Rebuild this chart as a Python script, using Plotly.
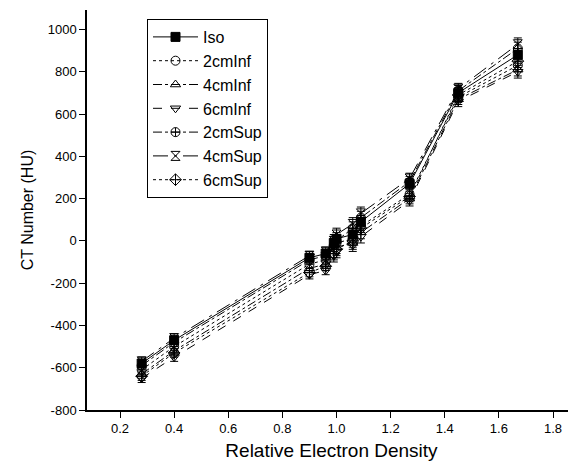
import plotly.graph_objects as go

density = [0.28, 0.40, 0.90, 0.96, 0.99, 1.00, 1.06, 1.09, 1.27, 1.45, 1.67]

iso      = [-580, -470,  -80,  -60, -10,  10,  30,  90, 270, 700, 880]
inf2     = [-610, -500, -110,  -90, -30, -10,  10,  70, 220, 680, 830]
inf4     = [-630, -520, -130, -110, -50, -30, -10,  40, 200, 670, 810]
inf6     = [-650, -550, -160, -140, -70, -50, -20,  20, 190, 660, 800]
sup2     = [-590, -480,  -90,  -70, -20,   0,  60, 110, 280, 710, 910]
sup4     = [-570, -460,  -70,  -50,   0,  30,  80, 130, 295, 720, 930]
sup6     = [-640, -530, -150, -120, -60, -40,   0,  60, 210, 690, 850]

err = [20, 20, 20, 20, 30, 30, 30, 30, 25, 25, 30]

names = ["Iso", "2cmInf", "4cmInf", "6cmInf", "2cmSup", "4cmSup", "6cmSup"]
series = [iso, inf2, inf4, inf6, sup2, sup4, sup6]
symbols = ["square", "circle-open", "triangle-up-open", "triangle-down-open",
           "circle-cross-open", "hourglass-open", "diamond-cross-open"]
dashes = ["solid", "dot", "dashdot", "dash", "dashdot", "longdashdot", "dot"]

x_ticks = [0.2, 0.4, 0.6, 0.8, 1.0, 1.2, 1.4, 1.6, 1.8]
x_labels = ["0.2", "0.4", "0.6", "0.8", "1.0", "1.2", "1.4", "1.6", "1.8"]
y_ticks = [-800, -600, -400, -200, 0, 200, 400, 600, 800, 1000]
y_labels = ["-800", "-600", "-400", "-200", "0", "200", "400", "600", "800", "1000"]

fig = go.Figure()
for n, s, sym, d in zip(names, series, symbols, dashes):
    fig.add_trace(go.Scatter(
        x=density, y=s, name=n, mode="lines+markers",
        line=dict(color="black", width=1, dash=d),
        marker=dict(symbol=sym, size=9, color="black", line=dict(color="black", width=1)),
        error_y=dict(type="data", array=err, color="black", thickness=1, width=4),
    ))

fig.update_layout(
    width=568, height=458,
    margin=dict(l=79, r=0, t=2, b=56),
    paper_bgcolor="white", plot_bgcolor="white",
    font=dict(family="Liberation Sans, Arial", color="black", size=13),
    showlegend=True,
    legend=dict(x=0.1227, y=0.9775, xanchor="left", yanchor="top",
                bordercolor="black", borderwidth=1, bgcolor="white",
                font=dict(size=16), tracegroupgap=0, itemwidth=45),
)
fig.update_xaxes(
    range=[0.078, 1.885], tickvals=x_ticks, ticktext=x_labels,
    ticks="outside", ticklen=6, tickcolor="black", showline=True, linecolor="black",
    linewidth=1.5, showgrid=False, zeroline=False,
    title=dict(text="Relative Electron Density", font=dict(size=19), standoff=8),
)
fig.update_yaxes(
    range=[-800, 1092], tickvals=y_ticks, ticktext=y_labels,
    ticks="outside", ticklen=6, tickcolor="black", showline=True, linecolor="black",
    linewidth=1.5, showgrid=False, zeroline=False,
    title=dict(text="CT Number (HU)", font=dict(size=16), standoff=10),
)

fig.write_html("out.html")
